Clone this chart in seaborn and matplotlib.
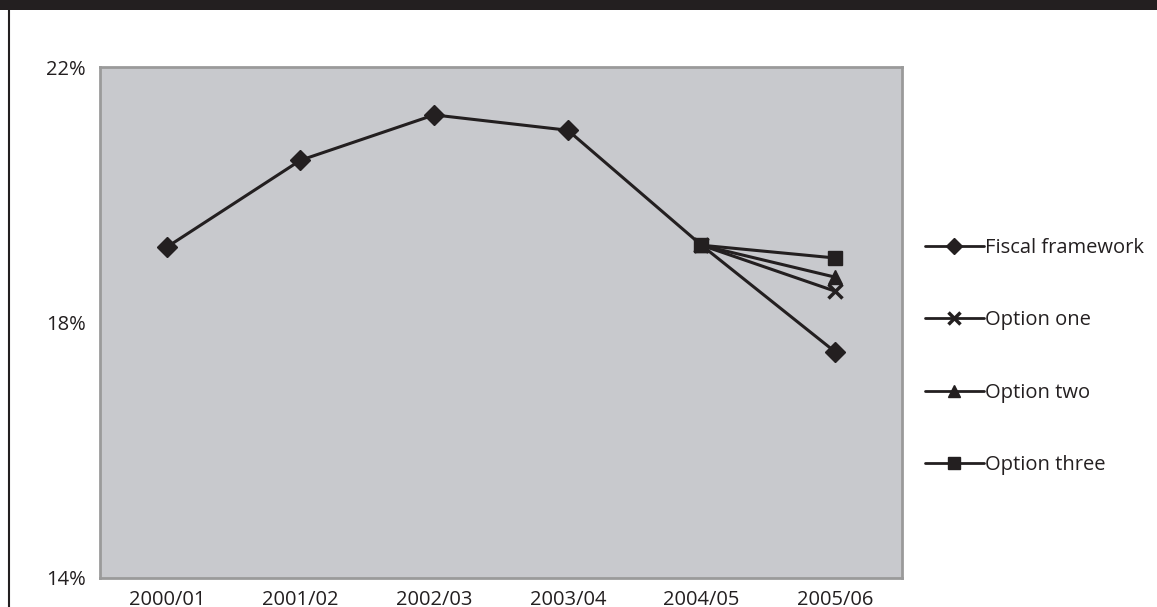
import matplotlib
matplotlib.use("Agg")
import matplotlib.pyplot as plt
import seaborn as sns
import pandas as pd
from matplotlib.patches import Rectangle
from matplotlib.lines import Line2D

years = ["2000/01", "2001/02", "2002/03", "2003/04", "2004/05", "2005/06"]
fiscal = [19.18, 20.54, 21.25, 21.01, 19.21, 17.54]
opt_years = ["2004/05", "2005/06"]
option_one = [19.21, 18.49]
option_two = [19.21, 18.71]
option_three = [19.21, 19.01]
yticks = [14, 18, 22]
ytick_labels = ["14%", "18%", "22%"]

series_names = ["Fiscal framework", "Option one", "Option two", "Option three"]
rows = []
for y, v in zip(years, fiscal):
    rows.append((series_names[0], y, v))
for name, vals in zip(series_names[1:], [option_one, option_two, option_three]):
    for y, v in zip(opt_years, vals):
        rows.append((name, y, v))
df = pd.DataFrame(rows, columns=["series", "year", "value"])
df["x"] = df["year"].map({y: i for i, y in enumerate(years)})

sns.set_theme(style="white")
plt.rcParams["font.family"] = ["Open Sans", "DejaVu Sans"]

ink = "#231f20"
fig = plt.figure(figsize=(11.57, 6.07), dpi=100)
ax = fig.add_axes([0.0864, 0.0478, 0.6932, 0.8418])
ax.set_facecolor("#c8c9cd")

markers = {"Fiscal framework": "D", "Option one": "x", "Option two": "^", "Option three": "s"}
msize = {"Fiscal framework": 10, "Option one": 10, "Option two": 10, "Option three": 10.5}
for i, name in enumerate(series_names):
    sub = df[df["series"] == name]
    extra = {}
    if name == "Fiscal framework":
        # the Option three square covers the shared 2004/05 point
        extra["markevery"] = [k for k, y in enumerate(sub["year"]) if y != "2004/05"]
    sns.lineplot(data=sub, x="x", y="value", ax=ax, color=ink, linewidth=2.2,
                 marker=markers[name], markersize=msize[name],
                 markeredgecolor=ink, markerfacecolor=ink,
                 markeredgewidth=2.5 if name == "Option one" else 1, label=name, legend=False,
                 zorder=3 + i, **extra)

ax.set_xlim(-0.5, len(years) - 0.5)
ax.set_ylim(14, 22)
ax.set_xticks(range(len(years)))
ax.set_xticklabels(years)
ax.set_yticks(yticks)
ax.set_yticklabels(ytick_labels)
ax.set_xlabel("")
ax.set_ylabel("")
ax.tick_params(axis="both", length=0, labelsize=14.5, colors=ink)
ax.tick_params(axis="x", pad=9)
ax.tick_params(axis="y", pad=10)
for s in ax.spines.values():
    s.set_visible(True)
    s.set_color("#9a9a9a")
    s.set_linewidth(2)

handles = [Line2D([0], [0], color=ink, linewidth=2, marker=markers[n],
                  markersize=msize[n] * 0.8, markerfacecolor=ink, markeredgecolor=ink,
                  markeredgewidth=2.5 if n == "Option one" else 1) for n in series_names]
leg = fig.legend(handles, series_names, loc="upper left", bbox_to_anchor=(0.784, 0.638),
                 frameon=False, fontsize=14.5, handlelength=2.9, handletextpad=0.05,
                 labelspacing=2.6, labelcolor=ink)

fig.patches.append(Rectangle((0, 1 - 10 / 607), 1, 10 / 607, transform=fig.transFigure,
                             facecolor=ink, edgecolor="none", zorder=10))
fig.lines.append(Line2D([9 / 1157, 9 / 1157], [0, 1 - 10 / 607], transform=fig.transFigure,
                        color=ink, linewidth=1.5))

fig.savefig("out.png", dpi=100)
